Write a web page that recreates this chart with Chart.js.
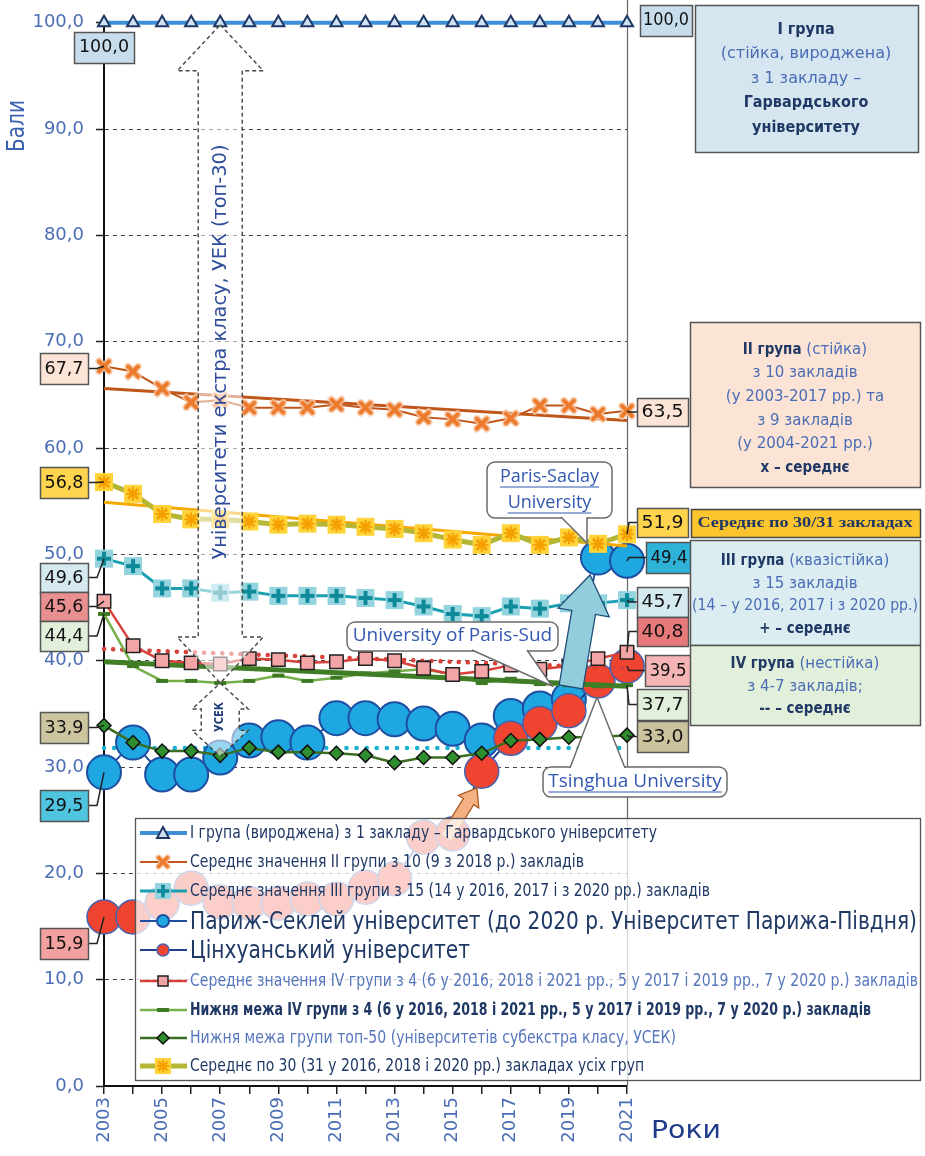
<!DOCTYPE html>
<html>
<head>
<meta charset="utf-8">
<script src="https://cdn.jsdelivr.net/npm/chart.js@4.4.0/dist/chart.umd.min.js"></script>
<style>
html,body{margin:0;padding:0;background:#fff}
canvas{display:block}
</style>
</head>
<body>
<canvas id="grafico" width="925" height="1156"></canvas>
<script>
// dados
const years = ['2003','2004','2005','2006','2007','2008','2009','2010','2011','2012','2013','2014','2015','2016','2017','2018','2019','2020','2021'];
const harvard = [100,100,100,100,100,100,100,100,100,100,100,100,100,100,100,100,100,100,100];
const group2Mean = [67.7,67.2,65.6,64.3,64.5,63.8,63.8,63.8,64.1,63.8,63.6,62.9,62.7,62.3,62.8,64.0,64.0,63.2,63.5];
const group2Trend = [65.6,62.6];
const avg30 = [56.8,55.7,53.8,53.3,53.3,53.1,52.8,52.9,52.8,52.6,52.4,52.0,51.4,50.9,52.0,50.9,51.6,51.0,51.9];
const avg30Trend = [54.9,50.8];
const group3Mean = [49.6,48.9,46.8,46.8,46.4,46.5,46.1,46.1,46.1,45.9,45.7,45.1,44.4,44.2,45.1,44.9,45.4,45.4,45.7];
const parisSaclay = [29.5,32.3,29.3,29.3,30.9,32.5,32.8,32.3,34.6,34.6,34.5,34.1,33.6,32.5,34.8,35.5,36.4,49.7,49.4];
const tsinghua = [15.9,15.9,17.2,18.6,17.3,17.2,17.2,17.6,17.6,18.7,19.5,23.4,23.7,29.6,32.7,34.1,35.3,38.1,39.5];
const group4Mean = [45.6,41.4,40.0,39.8,39.7,40.2,40.1,39.8,39.9,40.2,40.0,39.3,38.7,39.0,39.6,39.2,39.5,40.2,40.8];
const group4MeanTrend = [41.1,39.3];
const group4Lower = [44.4,39.5,38.1,38.1,37.9,38.1,38.6,38.1,38.4,38.8,39.0,39.2,38.7,37.9,38.3,37.8,37.7,37.6,37.7];
const group4LowerTrend = [39.9,37.6];
const top50Lower = [33.9,32.3,31.5,31.5,31.1,31.8,31.4,31.4,31.3,31.1,30.4,30.9,30.9,31.3,32.5,32.6,32.8,32.8,33.0];
const top50Trend = [31.8,31.8];

const legendLabels = [
  'I група (вироджена) з 1 закладу – Гарвардського університету',
  'Середнє значення II групи з 10 (9 з 2018 р.) закладів',
  'Середнє значення III групи з 15 (14 у 2016, 2017 і з 2020 рр.) закладів',
  'Париж-Секлей університет (до 2020 р. Університет Парижа-Півдня)',
  'Цінхуанський університет',
  'Середнє значення IV групи з 4 (6 у 2016, 2018 і 2021 рр., 5 у 2017 і 2019 рр., 7 у 2020 р.) закладів',
  'Нижня межа IV групи з 4 (6 у 2016, 2018 і 2021 рр., 5 у 2017 і 2019 рр., 7 у 2020 р.) закладів',
  'Нижня межа групи топ-50 (університетів субекстра класу, УСЕК)',
  'Середнє по 30 (31 у 2016, 2018 і 2020 рр.) закладах усіх груп'
];

const BLUE = '#4a6db5';
const NAVY = '#1f3864';
const NARROW = '"Liberation Sans Narrow","DejaVu Sans Condensed",sans-serif';

// marcadores
function marcador(size, draw){
  const c = document.createElement('canvas');
  c.width = size; c.height = size;
  draw(c.getContext('2d'), size);
  return c;
}
function xis(g, s, m){
  g.beginPath();
  g.moveTo(m,m); g.lineTo(s-m,s-m);
  g.moveTo(s-m,m); g.lineTo(m,s-m);
  g.stroke();
}
const mkOrange = marcador(18,(g,s)=>{
  g.lineCap='round';
  g.strokeStyle='#f9caa7'; g.lineWidth=7; xis(g,s,4);
  g.strokeStyle='#ec7a2c'; g.lineWidth=4; xis(g,s,4);
});
const mkYellow = marcador(20,(g,s)=>{
  g.fillStyle='#ffd43b'; g.fillRect(1,1,s-2,s-2);
  g.strokeStyle='#f5a000'; g.lineWidth=3; xis(g,s,5);
  g.lineWidth=2; g.beginPath(); g.moveTo(s/2,3); g.lineTo(s/2,s-3); g.moveTo(3,s/2); g.lineTo(s-3,s/2); g.stroke();
});
const mkTeal = marcador(20,(g,s)=>{
  g.fillStyle='#93d4df'; g.fillRect(1,1,s-2,s-2);
  g.strokeStyle='#0f8a9a'; g.lineWidth=4;
  g.beginPath(); g.moveTo(s/2,3); g.lineTo(s/2,s-3); g.moveTo(3,s/2); g.lineTo(s-3,s/2); g.stroke();
});

const ends = t => [{x:years[0], y:t[0]}, {x:years[years.length-1], y:t[1]}];
const ds = o => Object.assign({tension:0, pointRadius:0, borderWidth:2, fill:false, spanGaps:true, clip:false}, o);

const datasets = [
  ds({data:ends(top50Trend), borderColor:'#19b3d2', borderWidth:4.5, borderDash:[0.1,10], borderCapStyle:'round', order:20}),
  ds({data:parisSaclay, borderColor:'#1f4ea0', pointRadius:17, pointBackgroundColor:'#1ea7e1', pointBorderColor:'#1f4ea0', pointBorderWidth:2, order:19}),
  ds({data:tsinghua, borderColor:'#1f3f8f', pointRadius:17, pointBackgroundColor:'#ee4430', pointBorderColor:'#4462b0', pointBorderWidth:1.5, order:18}),
  ds({data:ends(group2Trend), borderColor:'#c0561a', borderWidth:3, order:17}),
  ds({data:group2Mean, borderColor:'#c0561a', pointStyle:mkOrange, pointRadius:8, order:16}),
  ds({data:ends(avg30Trend), borderColor:'#f6a800', borderWidth:3, order:15}),
  ds({data:avg30, borderColor:'#b5b634', borderWidth:5, pointStyle:mkYellow, pointRadius:8, order:14}),
  ds({data:group3Mean, borderColor:'#1aa0b0', borderWidth:3, pointStyle:mkTeal, pointRadius:8, order:13}),
  ds({data:ends(group4MeanTrend), borderColor:'#d8413a', borderWidth:4.5, borderDash:[0.1,9], borderCapStyle:'round', order:12}),
  ds({data:group4Lower, borderColor:'#76b04b', borderWidth:2.5, pointStyle:'line', pointRadius:6, pointBorderWidth:4, pointBorderColor:'#3d7a23', order:11}),
  ds({data:ends(group4LowerTrend), borderColor:'#3f7d26', borderWidth:5, order:10}),
  ds({data:group4Mean, borderColor:'#d8413a', borderWidth:2.5, pointStyle:'rect', pointRadius:9.5, pointBackgroundColor:'#f3a5a5', pointBorderColor:'#222', pointBorderWidth:1.5, order:9}),
  ds({data:top50Lower, borderColor:'#3b6e22', borderWidth:2.5, pointStyle:'rectRot', pointRadius:7, pointBackgroundColor:'#2f8f2f', pointBorderColor:'#111', pointBorderWidth:1.5, order:8}),
  ds({data:harvard, borderColor:'#3d8fd8', borderWidth:4, pointStyle:'triangle', pointRadius:7, pointBackgroundColor:'#cfe2f3', pointBorderColor:NAVY, pointBorderWidth:2, order:7})
];

// helpers de desenho
function fitText(ctx, s, x, y, w, font, color, rot){
  ctx.save();
  ctx.font = font; ctx.fillStyle = color;
  ctx.textAlign = 'left'; ctx.textBaseline = 'middle';
  const m = ctx.measureText(s).width;
  ctx.translate(x, y);
  if(rot) ctx.rotate(rot);
  ctx.scale(w/m, 1);
  ctx.fillText(s, -m/2, 0);
  ctx.restore();
}
function caixa(ctx, x, y, w, h, fill, stroke){
  ctx.save();
  ctx.fillStyle = fill; ctx.fillRect(x, y, w, h);
  ctx.strokeStyle = stroke || '#555'; ctx.lineWidth = 1.5;
  ctx.strokeRect(x+0.5, y+0.5, w, h);
  ctx.restore();
}
function linhaRica(ctx, segs, cx, y, maxW, size){
  const fN = size+'px "DejaVu Sans",sans-serif';
  const fB = 'bold '+size+'px '+NARROW;
  const ws = segs.map(s=>{ ctx.font = s[1]?fB:fN; return ctx.measureText(s[0]).width; });
  const tot = ws.reduce((a,b)=>a+b,0);
  const k = tot>maxW ? maxW/tot : 1;
  ctx.save();
  ctx.translate(cx - tot*k/2, y); ctx.scale(k,1);
  ctx.textAlign='left'; ctx.textBaseline='middle';
  let x = 0;
  segs.forEach((s,i)=>{ ctx.font = s[1]?fB:fN; ctx.fillStyle = s[1]?NAVY:BLUE; ctx.fillText(s[0], x, 0); x += ws[i]; });
  ctx.restore();
}
function seta(ctx, x1, y1, x2, y2, sh, hh, hl, fill, stroke){
  const dx = x2-x1, dy = y2-y1, L = Math.hypot(dx,dy);
  const ux = dx/L, uy = dy/L, nx = -uy, ny = ux;
  const bx = x2-ux*hl, by = y2-uy*hl;
  const p = [
    [x1+nx*sh, y1+ny*sh],[bx+nx*sh, by+ny*sh],[bx+nx*hh, by+ny*hh],[x2,y2],
    [bx-nx*hh, by-ny*hh],[bx-nx*sh, by-ny*sh],[x1-nx*sh, y1-ny*sh]
  ];
  ctx.save();
  ctx.beginPath(); p.forEach((q,i)=> i?ctx.lineTo(q[0],q[1]):ctx.moveTo(q[0],q[1])); ctx.closePath();
  ctx.fillStyle = fill; ctx.fill();
  ctx.strokeStyle = stroke; ctx.lineWidth = 1.3;
  ctx.stroke();
  ctx.restore();
}
function setaDupla(ctx, cx, yTop, yBot, sh, hh, hl){
  const p = [[cx,yTop],[cx+hh,yTop+hl],[cx+sh,yTop+hl],[cx+sh,yBot-hl],[cx+hh,yBot-hl],[cx,yBot],
             [cx-hh,yBot-hl],[cx-sh,yBot-hl],[cx-sh,yTop+hl],[cx-hh,yTop+hl]];
  ctx.save();
  ctx.beginPath(); p.forEach((q,i)=> i?ctx.lineTo(q[0],q[1]):ctx.moveTo(q[0],q[1])); ctx.closePath();
  ctx.fillStyle = 'rgba(255,255,255,0.55)'; ctx.fill();
  ctx.strokeStyle = '#444'; ctx.lineWidth = 1.4; ctx.setLineDash([4,3]); ctx.stroke();
  ctx.restore();
}
function balao(ctx, x, y, w, h, base1, base2, apex, lines, font, underline){
  ctx.save();
  ctx.fillStyle = '#fff'; ctx.strokeStyle = '#6b6b6b'; ctx.lineWidth = 1.5;
  ctx.beginPath(); ctx.roundRect(x, y, w, h, 8); ctx.fill(); ctx.stroke();
  ctx.beginPath(); ctx.moveTo(base1[0], base1[1]); ctx.lineTo(apex[0], apex[1]); ctx.lineTo(base2[0], base2[1]); ctx.closePath(); ctx.fill();
  ctx.beginPath(); ctx.moveTo(base1[0], base1[1]); ctx.lineTo(apex[0], apex[1]); ctx.lineTo(base2[0], base2[1]); ctx.stroke();
  ctx.font = font; ctx.fillStyle = '#3358b0'; ctx.textAlign='center'; ctx.textBaseline='middle';
  lines.forEach(l=>{
    ctx.fillText(l[0], x+w/2, l[1]);
    if(underline){
      const m = ctx.measureText(l[0]).width;
      ctx.strokeStyle = '#3358b0'; ctx.lineWidth = 1.2;
      ctx.beginPath(); ctx.moveTo(x+w/2-m/2, l[1]+10); ctx.lineTo(x+w/2+m/2, l[1]+10); ctx.stroke();
    }
  });
  ctx.restore();
}
const fmt = v => v.toFixed(1).replace('.', ',');

const rotulosEsq = [
  {v:group2Mean[0], b:[40,353,48,31], f:'#fbe4d5'},
  {v:avg30[0], b:[40,467,48,31], f:'#ffd54f'},
  {v:group3Mean[0], b:[40,563,48,29], f:'#d5e9f0'},
  {v:group4Mean[0], b:[40,592,48,29], f:'#e98f8f'},
  {v:group4Lower[0], b:[40,621,48,30], f:'#e2efda'},
  {v:top50Lower[0], b:[40,712,48,31], f:'#cdc59f'},
  {v:parisSaclay[0], b:[40,790,48,31], f:'#4fc4de'},
  {v:tsinghua[0], b:[40,928,48,31], f:'#f2a0a0'}
];
const rotulosDir = [
  {v:group2Mean[18], b:[637,398,51,28], f:'#fbe4d5'},
  {v:avg30[18], b:[637,508,51,29], f:'#ffd54f'},
  {v:parisSaclay[18], b:[646,542,46,31], f:'#2fb2d8'},
  {v:group3Mean[18], b:[637,587,51,30], f:'#d5e9f0'},
  {v:group4Mean[18], b:[637,617,51,29], f:'#e8797b'},
  {v:tsinghua[18], b:[645,655,46,31], f:'#f5b5b5'},
  {v:group4Lower[18], b:[637,689,51,31], f:'#e2efda'},
  {v:top50Lower[18], b:[637,721,51,31], f:'#cbc39d'}
];

// marcador da legenda desenhado a mao
function marcaLegenda(ctx, d, x, y){
  const st = d.pointStyle || 'circle';
  if(typeof st === 'object'){
    ctx.drawImage(st, x-st.width/2+1, y-st.height/2+1, st.width-2, st.height-2);
    return;
  }
  ctx.save();
  ctx.fillStyle = d.pointBackgroundColor || d.pointBorderColor;
  ctx.strokeStyle = d.pointBorderColor;
  ctx.lineWidth = st==='line' ? 4 : (d.pointBorderWidth||1.5);
  ctx.beginPath();
  if(st==='circle'){ ctx.arc(x,y,6,0,Math.PI*2); }
  else if(st==='rect'){ ctx.rect(x-5,y-5,10,10); }
  else if(st==='rectRot'){ ctx.moveTo(x,y-6); ctx.lineTo(x+6,y); ctx.lineTo(x,y+6); ctx.lineTo(x-6,y); ctx.closePath(); }
  else if(st==='triangle'){ ctx.moveTo(x,y-6); ctx.lineTo(x+6,y+5); ctx.lineTo(x-6,y+5); ctx.closePath(); }
  else if(st==='line'){ ctx.moveTo(x-6,y); ctx.lineTo(x+6,y); }
  if(st!=='line') ctx.fill();
  ctx.stroke();
  ctx.restore();
}

const decor = {
  id:'decor',
  beforeDatasetsDraw(chart){
    const ctx = chart.ctx, xs = chart.scales.x, ys = chart.scales.y;
    ctx.save();
    ctx.strokeStyle = '#666'; ctx.lineWidth = 1.2;
    ctx.beginPath(); ctx.moveTo(xs.right+0.5, 0); ctx.lineTo(xs.right+0.5, ys.bottom); ctx.stroke();
    ctx.restore();
  },
  afterDatasetsDraw(chart){
    const ctx = chart.ctx, xs = chart.scales.x, ys = chart.scales.y;
    const X = i => xs.getPixelForValue(i), Y = v => ys.getPixelForValue(v);

    // setas tracejadas UEK / УСЕК
    const cx = X(4);
    setaDupla(ctx, cx, Y(100)+2, Y(37.9), 22, 43, 46);
    setaDupla(ctx, cx, Y(37.9), Y(31.0), 19, 28, 26);
    fitText(ctx, 'Університети екстра класу, УЕК (топ-30)', cx+1, 352, 415, '20px "DejaVu Sans",sans-serif', '#2f4d9a', -Math.PI/2);
    fitText(ctx, 'УСЕК', cx, 717, 30, 'bold 12px "DejaVu Sans",sans-serif', '#1f3b7a', -Math.PI/2);

    // seta laranja
    seta(ctx, 446, 838, 477, 788, 6, 12, 16, '#f4b183', '#b05a20');

    // legenda
    ctx.save();
    ctx.fillStyle = 'rgba(255,255,255,0.74)'; ctx.fillRect(135, 818, 785, 262);
    ctx.strokeStyle = '#555'; ctx.lineWidth = 1.3; ctx.strokeRect(135.5, 818.5, 785, 262);
    ctx.restore();
    const ly = [833,862,891,921,950,981,1010,1038,1066];
    const lw = [467,394,520,727,280,728,681,486,454];
    const big = [false,false,false,true,true,false,false,false,false];
    const lcol = [NAVY,NAVY,NAVY,NAVY,NAVY,'#5676bd',NAVY,'#5676bd',NAVY];
    const legDs = [datasets[13],datasets[4],datasets[7],datasets[1],datasets[2],datasets[11],datasets[9],datasets[12],datasets[6]];
    legDs.forEach((d,i)=>{
      const y = ly[i];
      ctx.save();
      ctx.strokeStyle = d.borderColor; ctx.lineWidth = Math.min(d.borderWidth,5);
      ctx.beginPath(); ctx.moveTo(140,y); ctx.lineTo(187,y); ctx.stroke();
      ctx.restore();
      marcaLegenda(ctx, d, 163, y);
      const f = big[i] ? '25px '+NARROW : (i===6 ? 'bold 17px ' : '17px ')+NARROW;
      ctx.save();
      ctx.font = f; ctx.fillStyle = lcol[i]; ctx.textAlign='left'; ctx.textBaseline='middle';
      const m = ctx.measureText(legendLabels[i]).width;
      ctx.translate(190, y+1); ctx.scale(lw[i]/m, 1);
      ctx.fillText(legendLabels[i], 0, 0);
      ctx.restore();
    });

    // seta azul (Paris-Sud -> Paris-Saclay)
    seta(ctx, 571, 687, 590, 575, 12, 26, 38, '#92cddc', '#1f4e79');

    // rótulos de valores
    const fontV = '17px "DejaVu Sans",sans-serif';
    caixa(ctx, 74, 32, 60, 31, '#c8ddec');
    fitText(ctx, fmt(harvard[0]), 104, 48, 50, fontV, '#111');
    caixa(ctx, 640, 5, 52, 31, '#c8ddec');
    fitText(ctx, fmt(harvard[18]), 666, 21, 46, fontV, '#111');
    rotulosEsq.forEach(r=>{
      const [bx,by,bw,bh] = r.b, my = by+bh/2;
      ctx.save(); ctx.strokeStyle='#222'; ctx.lineWidth=1.5;
      ctx.beginPath(); ctx.moveTo(bx+bw, my); ctx.lineTo(97, my); ctx.lineTo(X(0), Y(r.v)); ctx.stroke(); ctx.restore();
      caixa(ctx, bx, by, bw, bh, r.f);
      fitText(ctx, fmt(r.v), bx+bw/2, my+1, bw-9, fontV, '#111');
    });
    rotulosDir.forEach(r=>{
      const [bx,by,bw,bh] = r.b, my = by+bh/2;
      const px = X(18), py = Y(r.v);
      ctx.save(); ctx.strokeStyle='#222'; ctx.lineWidth=1.5;
      ctx.beginPath(); ctx.moveTo(px, py); ctx.lineTo(px+2, my); ctx.lineTo(bx, my); ctx.stroke(); ctx.restore();
      caixa(ctx, bx, by, bw, bh, r.f);
      fitText(ctx, fmt(r.v), bx+bw/2, my+1, bw-9, fontV, '#111');
    });

    // caixas dos grupos
    caixa(ctx, 695, 5, 223, 147, '#d6e6f0', '#555');
    [[[['I група',1]],30],[[['(стійка, вироджена)',0]],54],[[['з 1 закладу –',0]],79],[[['Гарвардського',1]],103],[[['університету',1]],128]]
      .forEach(l=>linhaRica(ctx, l[0], 806, l[1], 215, 16));
    caixa(ctx, 690, 322, 230, 165, '#fbe4d5', '#555');
    [[[['II група',1],[' (стійка)',0]],350],[[['з 10 закладів',0]],373],[[['(у 2003-2017 рр.) та',0]],397],[[['з 9 закладів',0]],421],[[['(у 2004-2021 рр.)',0]],444],[[['x – середнє',1]],468]]
      .forEach(l=>linhaRica(ctx, l[0], 805, l[1], 222, 15));
    caixa(ctx, 691, 509, 229, 28, '#fcc42d', '#444');
    fitText(ctx, 'Середнє по 30/31 закладах', 805, 523, 215, 'bold 15px "Liberation Serif","DejaVu Serif",serif', NAVY);
    caixa(ctx, 690, 540, 230, 105, '#dcedf2', '#555');
    [[[['III група',1],[' (квазістійка)',0]],561],[[['з 15 закладів',0]],584],[[['(14 – у 2016, 2017 і з 2020 рр.)',0]],606],[[['+ – середнє',1]],629]]
      .forEach(l=>linhaRica(ctx, l[0], 805, l[1], 226, 15));
    caixa(ctx, 690, 645, 230, 80, '#e2efda', '#555');
    [[[['IV група',1],[' (нестійка)',0]],664],[[['з 4-7 закладів;',0]],687],[[['-- – середнє',1]],709]]
      .forEach(l=>linhaRica(ctx, l[0], 805, l[1], 222, 15));

    // balões
    balao(ctx, 487, 462, 125, 56, [561,517], [587,517], [587,543], [['Paris-Saclay',477],['University',503]], '18px "Open Sans","DejaVu Sans",sans-serif', true);
    balao(ctx, 347, 622, 211, 29, [472,650], [527,650], [552,686], [['University of Paris-Sud',636]], '19px "Open Sans","DejaVu Sans",sans-serif', false);
    balao(ctx, 543, 767, 184, 30, [570,768], [625,768], [597,697], [['Tsinghua University',782]], '19px "Open Sans","DejaVu Sans",sans-serif', true);

    // títulos dos eixos
    fitText(ctx, 'Бали', 18, 126, 52, '24px '+NARROW, '#3a62b0', -Math.PI/2);
    fitText(ctx, 'Роки', 686, 1131, 70, '25px '+NARROW, '#1f3b8a');
  }
};

new Chart(document.getElementById('grafico'), {
  type:'line',
  data:{labels:years, datasets:datasets},
  options:{
    responsive:false,
    animation:false,
    devicePixelRatio:1,
    layout:{padding:{top:20, right:298, left:0, bottom:0}},
    plugins:{legend:{display:false}, tooltip:{enabled:false}},
    scales:{
      x:{
        type:'category',
        offset:false,
        afterFit:s=>{ s.height = 70; },
        grid:{display:true, drawOnChartArea:false, drawTicks:true, tickLength:8, color:'#222', lineWidth:1.5},
        border:{display:true, color:'#111', width:2},
        ticks:{
          autoSkip:false, minRotation:90, maxRotation:90, padding:3, color:BLUE,
          font:{family:'"DejaVu Sans",sans-serif', size:18},
          callback:function(v,i){ return i%2===0 ? this.getLabelForValue(v) : ''; }
        }
      },
      y:{
        min:0, max:100,
        afterFit:s=>{ s.width = 104; },
        grid:{color:'#444', lineWidth:1, tickLength:8, tickColor:'#222', tickWidth:1.5},
        border:{display:true, color:'#111', width:2, dash:[4,4]},
        ticks:{
          stepSize:10, padding:12, color:BLUE,
          font:{family:'"DejaVu Sans",sans-serif', size:18},
          callback:v=>fmt(v)
        }
      }
    }
  },
  plugins:[decor]
});
</script>
</body>
</html>
